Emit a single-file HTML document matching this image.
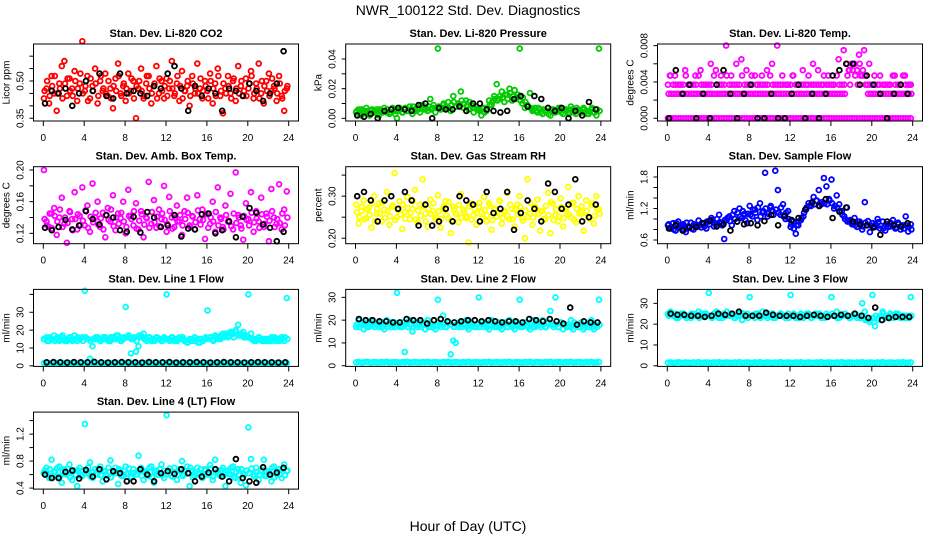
<!DOCTYPE html>
<html><head><meta charset="utf-8"><style>
html,body{margin:0;padding:0;background:#fff;}
svg{display:block;font-family:"Liberation Sans",Arial,sans-serif;}
</style></head><body>
<svg id="chart" width="936" height="540" viewBox="0 0 936 540" xmlns="http://www.w3.org/2000/svg">
<rect width="936" height="540" fill="#fff"/>
<text x="468" y="15" text-anchor="middle" font-size="14">NWR_100122 Std. Dev. Diagnostics</text>
<text x="468" y="531" text-anchor="middle" font-size="14">Hour of Day (UTC)</text>
</svg>
<script>
const xTicks=[0,4,8,12,16,20,24];
const co2Red=[0.43,0.47,0.41,0.52,0.45,0.38,0.49,0.56,0.58,0.44,0.51,0.47,0.54,0.42,0.49,0.66,0.46,0.52,0.43,0.48,0.55,0.41,0.50,0.46,0.53,0.44,0.47,0.39,0.51,0.57,0.45,0.48,0.42,0.53,0.46,0.50,0.35,0.47,0.55,0.43,0.49,0.52,0.41,0.48,0.56,0.45,0.50,0.43,0.51,0.47,0.58,0.44,0.49,0.42,0.54,0.46,0.48,0.40,0.52,0.45,0.57,0.47,0.43,0.50,0.46,0.53,0.41,0.49,0.55,0.44,0.37,0.47,0.52,0.45,0.50,0.42,0.56,0.48,0.44,0.51,0.47,0.54,0.43,0.49,0.57,0.45,0.41,0.50,0.53,0.46,0.48,0.42,0.52,0.44,0.38,0.47];
const co2Red2=[0.46,0.50,0.44,0.48,0.52,0.45,0.47,0.43,0.49,0.51,0.46,0.44,0.50,0.47,0.53,0.45,0.48,0.42,0.51,0.46,0.49,0.44,0.52,0.47,0.45,0.50,0.43,0.48,0.46,0.52,0.44,0.49,0.47,0.45,0.51,0.43,0.48,0.50,0.46,0.44,0.52,0.47,0.45,0.49,0.43,0.51,0.46,0.48,0.44,0.50,0.47,0.45,0.52,0.48,0.43,0.46,0.50,0.44,0.49,0.47,0.45,0.51,0.46,0.48,0.43,0.50,0.47,0.44,0.52,0.46,0.49,0.45,0.48,0.43,0.51,0.47,0.45,0.50,0.46,0.44,0.49,0.52,0.45,0.47,0.43,0.50,0.48,0.46,0.44,0.51,0.47,0.45,0.49,0.43,0.46,0.48];
const co2Black=[0.41,0.46,0.45,0.47,0.40,0.45,0.50,0.46,0.53,0.44,0.43,0.53,0.45,0.46,0.45,0.44,0.48,0.47,0.53,0.56,0.47,0.38,0.48,0.44,0.47,0.45,0.38,0.47,0.46,0.44,0.49,0.46,0.42,0.45,0.49,0.62];
const presGreen=[0.004,0.006,0.002,0.005,0.007,0.003,0.005,0.004,0.006,0.002,0.005,0.007,0.004,0.003,0.006,0.005,0.000,0.007,0.004,0.006,0.005,0.008,0.003,0.006,0.007,0.004,0.009,0.006,0.005,0.013,0.007,0.004,0.047,0.006,0.009,0.007,0.011,0.005,0.015,0.008,0.010,0.018,0.007,0.012,0.006,0.009,0.004,0.008,0.006,0.002,0.007,0.005,0.012,0.009,0.015,0.023,0.013,0.018,0.011,0.016,0.020,0.012,0.019,0.014,0.047,0.010,0.007,0.009,0.017,0.005,0.007,0.004,0.006,0.003,0.005,0.007,0.002,0.006,0.004,0.005,0.007,0.003,0.006,0.004,0.008,0.005,0.003,0.006,0.004,0.007,0.005,0.003,0.006,0.004,0.002,0.047];
const presGreen2=[0.005,0.003,0.006,0.004,0.005,0.002,0.006,0.005,0.003,0.006,0.004,0.005,0.006,0.004,0.007,0.003,0.005,0.006,0.004,0.007,0.005,0.006,0.008,0.005,0.006,0.009,0.006,0.007,0.008,0.006,0.009,0.007,0.008,0.006,0.010,0.008,0.007,0.009,0.011,0.008,0.009,0.012,0.010,0.008,0.011,0.009,0.007,0.006,0.005,0.007,0.004,0.006,0.009,0.011,0.013,0.012,0.015,0.014,0.016,0.013,0.017,0.015,0.013,0.016,0.012,0.014,0.011,0.008,0.007,0.006,0.005,0.007,0.004,0.006,0.005,0.003,0.006,0.004,0.005,0.007,0.004,0.006,0.005,0.003,0.006,0.004,0.007,0.005,0.004,0.006,0.003,0.005,0.007,0.004,0.006,0.005];
const presBlack=[0.002,0.001,0.003,0.000,0.005,0.006,0.007,0.006,0.005,0.009,0.010,0.000,0.007,0.006,0.006,0.008,0.005,0.010,0.010,0.006,0.005,0.004,0.005,0.013,0.015,0.008,0.015,0.013,0.007,0.005,0.007,0.000,0.005,0.002,0.011,0.006];
const tempZero=[0,0,0,0,0,0,0,0,0,0,0,0,0,0,0,0,0,0,0,0,0,0,0,0,0,0,0,0,0,0,0,0,0,0,0,0,0,0,0,0,0,0,0,0,0,0,0,0,0,0,0,0,0,0,0,0,0,0,0,0,0,0,0,0,0,0,0,0,0,0,0,0,0,0,0,0,0,0,0,0,0,0,0,0,0,0,0,0,0,0,0,0,0,0,0,0];
const tempMid=[0.0027,0.0027,0.0027,0.0027,0.0027,0.0027,0.0027,0.0027,0.0027,0.0027,0.0027,0.0027,0.0027,0.0027,0.0027,0.0027,0.0027,0.0027,0.0027,0.0027,0.0027,0.0027,0.0027,0.0027,0.0027,0.0027,0.0027,0.0027,0.0027,0.0027,0.0027,0.0027,0.0027,0.0027,0.0027,0.0027,0.0027,0.0027,0.0027,0.0027,0.0027,0.0027,0.0027,0.0027,0.0027,0.0027,0.0027,0.0027,0.0027,0.0027,0.0027,0.0027,0.0027,0.0027,0.0027,0.0027,0.0027,0.0027,0.0027,0.0027,0.0027,0.0027,0.0027,0.0027,0.0027,0.0027,0.0027,0.0027,0.0027,0.0027,0.0047,0.0037,0.0053,0.0047,0.0037,0.0047,0.0053,0.0037,0.0027,0.0027,0.0027,0.0027,0.0027,0.0027,0.0027,0.0027,0.0027,0.0027,0.0027,0.0027,0.0027,0.0027,0.0027,0.0027,0.0027,0.0027];
const tempMid2=[0.0037,0.0047,0.0037,0.0037,0.0037,0.0037,0.0037,0.0047,0.0037,0.0037,0.0037,0.0037,0.0047,0.0037,0.0037,0.0037,0.0037,0.0037,0.0047,0.0037,0.0037,0.0037,0.0037,0.0047,0.0037,0.0037,0.0037,0.0037,0.0037,0.0047,0.0037,0.0037,0.0037,0.0037,0.0047,0.0037,0.0037,0.0037,0.0037,0.0037,0.0047,0.0037,0.0037,0.0037,0.0037,0.0037,0.0037,0.0037,0.0037,0.0047,0.0037,0.0037,0.0037,0.0037,0.0037,0.0047,0.0037,0.0037,0.0037,0.0037,0.0037,0.0047,0.0037,0.0037,0.0037,0.0037,0.0047,0.0037,0.0037,0.0037,0.0060,0.0053,0.0060,0.0060,0.0053,0.0060,0.0047,0.0047,0.0037,0.0037,0.0037,0.0037,0.0037,0.0047,0.0037,0.0037,0.0037,0.0037,0.0047,0.0037,0.0037,0.0037,0.0047,0.0037,0.0037,0.0037];
const tempHigh=[0.0047,0.0047,0.0037,0.0053,0.0037,0.0047,0.0053,0.0037,0.0060,0.0053,0.0047,0.0080,0.0047,0.0060,0.0065,0.0053,0.0047,0.0037,0.0047,0.0053,0.0060,0.0080,0.0047,0.0037,0.0047,0.0037,0.0053,0.0037,0.0060,0.0053,0.0037,0.0047,0.0037,0.0065,0.0075,0.0053,0.0060,0.0070,0.0075,0.0060,0.0047,0.0037,0.0037,0.0037,0.0047,0.0037,0.0047,0.0037];
const tempBlack=[0,0.0053,0.0027,0.0037,0,0.0027,0,0.0037,0.0053,0.0027,0,0.0027,0.0037,0,0,0.0027,0,0,0.0027,0.0037,0,0.0027,0,0.0027,0.0047,0.0053,0.006,0.006,0.0037,0.0047,0.0037,0.0027,0,0.0027,0.0037,0.0027];
const ambMagenta=[0.200,0.135,0.128,0.145,0.152,0.118,0.140,0.165,0.132,0.108,0.148,0.138,0.172,0.125,0.142,0.178,0.130,0.155,0.122,0.183,0.140,0.160,0.128,0.146,0.115,0.152,0.135,0.168,0.124,0.145,0.139,0.160,0.120,0.175,0.142,0.130,0.158,0.125,0.148,0.115,0.140,0.185,0.132,0.162,0.127,0.150,0.138,0.180,0.122,0.166,0.140,0.128,0.155,0.135,0.118,0.148,0.165,0.130,0.142,0.125,0.168,0.138,0.150,0.113,0.145,0.132,0.160,0.122,0.178,0.140,0.128,0.155,0.135,0.170,0.125,0.197,0.143,0.130,0.112,0.158,0.138,0.172,0.122,0.148,0.135,0.165,0.128,0.145,0.110,0.176,0.140,0.132,0.182,0.125,0.150,0.173];
const ambMagenta2=[0.138,0.130,0.145,0.126,0.142,0.135,0.150,0.128,0.140,0.133,0.147,0.124,0.138,0.144,0.130,0.136,0.149,0.127,0.141,0.134,0.146,0.131,0.139,0.125,0.143,0.137,0.150,0.129,0.140,0.132,0.146,0.135,0.128,0.142,0.138,0.148,0.126,0.136,0.144,0.131,0.139,0.127,0.147,0.134,0.141,0.129,0.145,0.137,0.132,0.148,0.126,0.140,0.135,0.143,0.130,0.138,0.146,0.128,0.141,0.134,0.149,0.131,0.137,0.144,0.127,0.140,0.135,0.147,0.130,0.138,0.125,0.143,0.136,0.129,0.145,0.133,0.140,0.126,0.142,0.137,0.130,0.146,0.134,0.139,0.127,0.144,0.132,0.141,0.136,0.148,0.128,0.138,0.133,0.145,0.130,0.140];
const ambBlack=[0.127,0.124,0.128,0.137,0.125,0.130,0.148,0.138,0.131,0.143,0.140,0.124,0.122,0.141,0.121,0.147,0.140,0.128,0.130,0.143,0.116,0.126,0.125,0.144,0.145,0.120,0.124,0.135,0.115,0.141,0.152,0.146,0.131,0.127,0.110,0.122];
const rhYellow=[0.280,0.235,0.265,0.290,0.248,0.272,0.225,0.300,0.258,0.283,0.240,0.268,0.310,0.232,0.275,0.355,0.250,0.288,0.222,0.262,0.298,0.245,0.270,0.315,0.238,0.280,0.340,0.258,0.228,0.292,0.265,0.245,0.302,0.225,0.270,0.288,0.248,0.212,0.275,0.260,0.238,0.305,0.268,0.248,0.190,0.282,0.255,0.232,0.275,0.262,0.298,0.240,0.283,0.220,0.268,0.252,0.290,0.235,0.262,0.308,0.245,0.270,0.228,0.280,0.300,0.248,0.200,0.340,0.258,0.232,0.275,0.292,0.218,0.265,0.245,0.308,0.212,0.282,0.255,0.240,0.295,0.228,0.270,0.322,0.250,0.285,0.238,0.300,0.262,0.218,0.290,0.248,0.278,0.235,0.300,0.268];
const rhYellow2=[0.262,0.250,0.275,0.245,0.268,0.255,0.282,0.240,0.270,0.258,0.285,0.248,0.265,0.252,0.278,0.243,0.268,0.256,0.280,0.247,0.272,0.260,0.288,0.244,0.266,0.253,0.276,0.240,0.270,0.258,0.283,0.250,0.264,0.246,0.274,0.255,0.286,0.242,0.268,0.257,0.279,0.249,0.263,0.252,0.276,0.244,0.270,0.259,0.284,0.247,0.267,0.254,0.278,0.243,0.271,0.260,0.288,0.248,0.265,0.253,0.280,0.245,0.269,0.257,0.275,0.242,0.266,0.251,0.283,0.249,0.272,0.258,0.264,0.246,0.277,0.255,0.286,0.243,0.268,0.252,0.274,0.248,0.263,0.256,0.281,0.244,0.270,0.259,0.276,0.250,0.265,0.247,0.284,0.253,0.271,0.258];
const rhBlack=[0.30,0.31,0.29,0.24,0.29,0.30,0.27,0.31,0.29,0.23,0.28,0.23,0.24,0.27,0.24,0.30,0.29,0.28,0.24,0.31,0.26,0.27,0.31,0.22,0.26,0.29,0.27,0.24,0.33,0.31,0.27,0.28,0.34,0.24,0.25,0.28];
const flowBlue=[0.88,0.82,0.92,0.78,0.95,0.85,0.90,0.75,0.86,0.93,0.80,0.88,0.97,0.84,0.91,0.82,0.95,1.02,0.86,0.90,1.08,0.92,0.62,0.98,1.05,0.88,1.15,0.95,1.20,1.02,1.10,0.92,1.25,1.05,1.18,0.98,1.30,1.12,1.88,1.05,1.22,1.15,1.92,1.55,1.08,1.28,1.00,1.15,0.85,0.95,0.72,0.88,0.98,1.05,1.18,1.30,1.25,1.42,1.35,1.55,1.28,1.78,1.62,1.38,1.75,1.20,1.45,1.28,1.15,1.05,1.22,0.95,0.90,1.02,0.85,0.95,0.80,1.32,0.88,0.75,0.92,0.85,1.00,0.82,0.95,0.78,0.90,0.86,0.98,0.82,0.93,0.80,0.88,1.05,0.76,0.90];
const flowBlue2=[0.90,0.85,0.80,0.92,0.84,0.88,0.79,0.93,0.86,0.82,0.90,0.85,0.88,0.92,0.86,0.95,0.90,0.98,0.92,1.00,0.94,0.88,0.98,1.02,0.96,1.08,1.00,1.12,1.05,1.15,0.98,1.10,1.08,1.18,1.12,1.22,1.05,1.15,1.20,1.10,1.25,1.08,1.18,1.12,1.22,1.05,1.12,1.00,0.90,0.82,0.88,0.95,1.02,1.12,1.22,1.25,1.30,1.28,1.35,1.25,1.32,1.30,1.28,1.35,1.30,1.25,1.22,1.15,1.08,1.00,0.95,0.98,0.92,0.88,0.95,0.90,0.86,0.93,0.96,0.88,0.85,0.90,0.94,0.87,0.82,0.90,0.85,0.92,0.88,0.84,0.90,0.86,0.82,0.88,0.85,0.80];
const flowBlack=[0.82,0.88,0.78,0.84,0.85,0.92,0.97,0.86,0.90,0.78,0.95,0.90,0.92,0.88,0.96,1.08,0.88,1.06,0.98,1.02,1.18,1.32,1.25,1.38,1.02,1.14,1.22,0.95,0.90,0.88,0.84,0.70,0.95,0.88,0.86,0.92];
const line1Cyan=[15,16,14,15,17,15,14,16,15,14,16,15,17,14,15,16,42,15,4,11,15,16,14,15,16,15,14,16,15,17,14,15,33,16,7,15,8,11,17,18,15,16,14,15,16,15,14,16,40,15,16,14,15,16,15,14,13,15,14,16,15,13,14,15,31,16,15,17,16,15,18,17,16,19,18,20,23,17,19,16,40,18,15,14,16,15,14,15,14,16,15,14,15,16,14,38];
const line1Cyan2=[15,14,16,15,14,16,15,17,14,15,16,14,15,16,15,14,16,15,14,15,16,15,14,16,15,14,16,15,17,15,14,16,16,17,15,16,14,17,16,15,14,16,15,14,16,15,14,15,15,14,16,15,14,15,16,14,13,14,15,14,13,15,14,16,15,16,14,16,15,17,16,18,17,18,16,19,17,18,16,17,16,15,14,15,16,14,15,14,15,14,16,15,14,15,16,15];
const line1Base=[1.5,1.6,1.4,1.5,1.7,1.5,1.4,1.6,1.5,1.4,1.6,1.5,1.7,1.4,1.5,1.6,1.5,1.4,1.6,1.5,1.7,1.4,1.5,1.6,1.5,1.4,1.6,1.5,1.7,1.4,1.5,1.6,1.5,1.4,1.6,1.5,1.7,1.4,1.5,1.6,1.5,1.4,1.6,1.5,1.7,1.4,1.5,1.6,1.5,1.4,1.6,1.5,1.7,1.4,1.5,1.6,1.5,1.4,1.6,1.5,1.7,1.4,1.5,1.6,1.5,1.4,1.6,1.5,1.7,1.4,1.5,1.6,1.5,1.4,1.6,1.5,1.7,1.4,1.5,1.6,1.5,1.4,1.6,1.5,1.7,1.4,1.5,1.6,1.5,1.4,1.6,1.5,1.7,1.4,1.5,1.6];
const line1Black=[2,2.1,2,1.9,2.1,2,2,2.2,2,1.9,2,2.1,2,2,1.9,2.1,2,2,2.1,1.9,2,2,2.1,2,1.9,2,2.1,2,2,1.9,2,2.1,2,2,1.9,2];
const line2Cyan=[17,20,18,16,19,17,20,18,18,17,19,16,20,18,17,19,32,18,17,6,19,20,15,18,17,19,18,16,20,17,18,16,29,18,22,17,19,5,11,10,17,19,18,20,16,19,18,17,30,18,17,19,16,20,18,17,19,16,18,17,20,18,16,19,29,17,19,18,16,20,17,19,18,20,17,19,24,18,30,17,19,16,18,17,20,16,18,17,19,16,18,17,20,16,18,29];
const line2Cyan2=[18,17,19,18,17,18,19,17,18,19,17,18,17,19,18,17,18,17,19,18,17,18,17,19,18,17,18,19,17,18,17,18,19,17,18,17,19,18,17,18,19,17,18,17,19,18,17,18,17,19,18,17,18,19,17,18,17,18,19,17,18,17,19,18,17,18,19,17,18,17,18,19,17,18,17,19,18,17,18,17,19,18,17,18,17,19,18,17,18,17,18,19,17,18,17,18];
const line2Base=line1Base.slice();
const line2Black=[20.5,20,20,19.5,19.5,19,19,20.5,20,20,18.5,20,20.5,19.5,19,19.5,20,20,19.5,20,19.5,19,19.5,19.5,19,20.5,20,19.5,20.5,19.5,18.5,25.5,18,19.5,19,19];
const line3Cyan=[25,26,24,25,23,24,25,24,24,23,25,24,26,25,24,25,35,24,25,26,23,24,25,26,24,25,23,24,25,22,24,25,33,24,23,25,24,26,24,23,24,25,23,24,25,24,23,25,34,24,23,24,25,23,24,25,23,24,25,24,23,24,25,24,33,24,26,23,24,25,24,23,24,25,23,24,30,26,22,21,34,19,22,24,26,23,24,25,23,24,25,23,24,23,24,33];
const line3Cyan2=[24,25,24,23,24,25,24,23,24,25,24,24,23,24,25,24,24,23,24,25,24,23,24,24,25,24,23,24,24,25,24,23,24,24,25,24,23,24,24,25,24,23,24,24,25,24,24,23,24,25,24,23,24,24,25,24,23,24,24,25,24,23,24,24,25,24,23,24,24,25,24,23,24,25,24,23,24,22,23,22,23,24,23,24,25,24,23,24,24,25,24,23,24,24,23,24];
const line3Base=line1Base.slice();
const line3Black=[25,24.5,24.5,24,24,23.5,24,25,24.5,25,26,24,24,24,25.5,24.5,24,24,24,23.5,24,24.5,24,23.5,24,24.5,24,25,24,23,28,22,23,23.5,23.5,23.5];
const line4Cyan=[0.62,0.70,0.55,0.82,0.65,0.58,0.72,0.48,0.68,0.60,0.75,0.52,0.66,0.43,0.70,0.58,1.35,0.64,0.78,0.55,0.68,0.60,0.72,0.50,0.65,0.58,0.81,0.62,0.70,0.46,0.66,0.58,0.72,0.62,0.55,0.68,0.60,0.88,0.70,0.52,0.64,0.58,0.72,0.48,0.66,0.60,0.75,0.55,1.48,0.65,0.58,0.70,0.52,0.68,0.80,0.60,0.72,0.43,0.66,0.58,0.70,0.62,0.55,0.68,0.60,0.74,0.52,0.82,0.65,0.58,0.70,0.43,0.66,0.60,0.72,0.55,0.68,0.48,0.62,0.44,1.30,0.83,0.60,0.70,0.52,0.66,0.82,0.58,0.64,0.50,0.72,0.60,0.68,0.55,0.75,0.65];
const line4Cyan2=[0.66,0.60,0.68,0.58,0.63,0.70,0.57,0.65,0.61,0.69,0.56,0.64,0.60,0.67,0.58,0.66,0.62,0.70,0.57,0.64,0.61,0.68,0.59,0.65,0.60,0.70,0.56,0.64,0.62,0.68,0.58,0.66,0.61,0.69,0.57,0.63,0.60,0.67,0.58,0.65,0.62,0.70,0.56,0.64,0.60,0.68,0.59,0.66,0.61,0.69,0.57,0.63,0.60,0.67,0.58,0.65,0.62,0.70,0.56,0.64,0.61,0.68,0.59,0.66,0.60,0.69,0.57,0.63,0.62,0.67,0.58,0.65,0.61,0.70,0.56,0.64,0.60,0.68,0.59,0.66,0.62,0.69,0.57,0.63,0.60,0.67,0.58,0.65,0.61,0.70,0.56,0.64,0.60,0.68,0.59,0.66];
const line4Black=[0.60,0.55,0.55,0.64,0.66,0.54,0.67,0.57,0.68,0.53,0.65,0.62,0.50,0.50,0.68,0.60,0.50,0.62,0.65,0.61,0.68,0.62,0.50,0.57,0.63,0.68,0.57,0.50,0.83,0.55,0.50,0.48,0.71,0.60,0.63,0.70];

const NS="http://www.w3.org/2000/svg";
const svg=document.getElementById('chart');
function mk(tag,attrs,parent){const e=document.createElementNS(NS,tag);for(const k in attrs)e.setAttribute(k,attrs[k]);(parent||svg).appendChild(e);return e;}

const panels=[
 {name:'co2',title:'Stan. Dev. Li-820 CO2',ylab:'Licor ppm',col:0,row:0,ymin:0.339,ymax:0.649,ticks:[0.35,0.40,0.45,0.50,0.55,0.60],labels:{'0.35':'0.35','0.5':'0.50'},series:[[co2Red,'#ff0000'],[co2Red2,'#ff0000'],[co2Black,'#000']]},
 {name:'pressure',title:'Stan. Dev. Li-820 Pressure',ylab:'kPa',col:1,row:0,ymin:-0.0018,ymax:0.0501,ticks:[0,0.01,0.02,0.03,0.04],labels:{'0':'0.00','0.02':'0.02','0.04':'0.04'},series:[[presGreen,'#00cc00'],[presGreen2,'#00cc00'],[presBlack,'#000']]},
 {name:'temp',title:'Stan. Dev. Li-820 Temp.',ylab:'degrees C',col:2,row:0,ymin:-0.0003,ymax:0.00818,ticks:[0,0.002,0.004,0.006,0.008],labels:{'0':'0.000','0.004':'0.004','0.008':'0.008'},series:[[tempZero,'#ff00ff'],[tempMid,'#ff00ff'],[tempMid2,'#ff00ff'],[tempHigh,'#ff00ff'],[tempBlack,'#000']]},
 {name:'amb-box-temp',title:'Stan. Dev. Amb. Box Temp.',ylab:'degrees C',col:0,row:1,ymin:0.1069,ymax:0.2042,ticks:[0.12,0.14,0.16,0.18,0.20],labels:{'0.12':'0.12','0.16':'0.16','0.2':'0.20'},series:[[ambMagenta,'#ff00ff'],[ambMagenta2,'#ff00ff'],[ambBlack,'#000']]},
 {name:'gas-rh',title:'Stan. Dev. Gas Stream RH',ylab:'percent',col:1,row:1,ymin:0.187,ymax:0.370,ticks:[0.20,0.25,0.30,0.35],labels:{'0.2':'0.20','0.3':'0.30'},series:[[rhYellow,'#ffff00'],[rhYellow2,'#ffff00'],[rhBlack,'#000']]},
 {name:'sample-flow',title:'Stan. Dev. Sample Flow',ylab:'ml/min',col:2,row:1,ymin:0.53,ymax:1.996,ticks:[0.6,0.8,1.0,1.2,1.4,1.6,1.8],labels:{'0.6':'0.6','1.2':'1.2','1.8':'1.8'},series:[[flowBlue,'#0000ff'],[flowBlue2,'#0000ff'],[flowBlack,'#000']]},
 {name:'line1-flow',title:'Stan. Dev. Line 1 Flow',ylab:'ml/min',col:0,row:2,ymin:-0.3,ymax:42.8,ticks:[0,10,20,30,40],labels:{'0':'0','10':'10','20':'20','30':'30'},series:[[line1Cyan,'#00ffff'],[line1Cyan2,'#00ffff'],[line1Base,'#00ffff'],[line1Black,'#000']]},
 {name:'line2-flow',title:'Stan. Dev. Line 2 Flow',ylab:'ml/min',col:1,row:2,ymin:-0.3,ymax:33.5,ticks:[0,10,20,30],labels:{'0':'0','10':'10','20':'20','30':'30'},series:[[line2Cyan,'#00ffff'],[line2Cyan2,'#00ffff'],[line2Base,'#00ffff'],[line2Black,'#000']]},
 {name:'line3-flow',title:'Stan. Dev. Line 3 Flow',ylab:'ml/min',col:2,row:2,ymin:-0.3,ymax:36.7,ticks:[0,10,20,30],labels:{'0':'0','10':'10','20':'20','30':'30'},series:[[line3Cyan,'#00ffff'],[line3Cyan2,'#00ffff'],[line3Base,'#00ffff'],[line3Black,'#000']]},
 {name:'line4-flow',title:'Stan. Dev. Line 4 (LT) Flow',ylab:'ml/min',col:0,row:3,ymin:0.385,ymax:1.526,ticks:[0.4,0.6,0.8,1.0,1.2,1.4],labels:{'0.4':'0.4','0.8':'0.8','1.2':'1.2'},series:[[line4Cyan,'#00ffff'],[line4Cyan2,'#00ffff'],[line4Black,'#000']]}
];
const colX0=[43.3,355.5,667.3];
const xSpan=245.4;
panels.forEach(p=>{
 const g=mk('g',{});
 
 
 const x0=colX0[p.col];
 const L=x0-9.8,R=x0+xSpan+9.8,T=44+p.row*122.7,B=T+77;
 const xs=h=>x0+h/24*xSpan;
 const ys=v=>B-(v-p.ymin)/(p.ymax-p.ymin)*(B-T);
 const t=mk('text',{x:(L+R)/2,y:T-7,'text-anchor':'middle','font-size':'11','font-weight':'bold'},g);
 t.textContent=p.title;
 
 
 const pts=mk('g',{fill:'none','stroke-width':'1.8'},g);
 
 
 p.series.forEach(([vals,color],si)=>{
  const n=vals.length;
  const off=(si%2)*0.5;
  vals.forEach((v,i)=>{
   const h=(i+0.25+off*0.5)*24/n;
   const c=mk('circle',{cx:xs(h).toFixed(1),cy:ys(v).toFixed(1),r:'2.4',stroke:color},pts);
   
   
  });
 });
 const box=mk('rect',{x:L,y:T,width:R-L,height:B-T,fill:'none',stroke:'#000','stroke-width':'1'},g);
 
 
 xTicks.forEach(h=>{
  mk('line',{x1:xs(h),x2:xs(h),y1:B,y2:B+5,stroke:'#000'},g);
  const tl=mk('text',{x:xs(h),y:B+20,'text-anchor':'middle','font-size':'10'},g);
  tl.textContent=h;
  
  
 });
 p.ticks.forEach(v=>{
  const y=ys(v);
  mk('line',{x1:L-4,x2:L,y1:y,y2:y,stroke:'#000'},g);
  const lab=p.labels[String(+v.toFixed(4))];
  if(lab){
   const tl=mk('text',{x:L-10,y:y,'text-anchor':'middle','font-size':'10',transform:`rotate(-90 ${L-10} ${y})`},g);
   tl.textContent=lab;
   
   
  }
 });
 const yl=L-24,ym=(T+B)/2;
 const ylab=mk('text',{x:yl,y:ym,'text-anchor':'middle','font-size':'10',transform:`rotate(-90 ${yl} ${ym})`},g);
 ylab.textContent=p.ylab;
 
 
});
</script>
</body></html>
